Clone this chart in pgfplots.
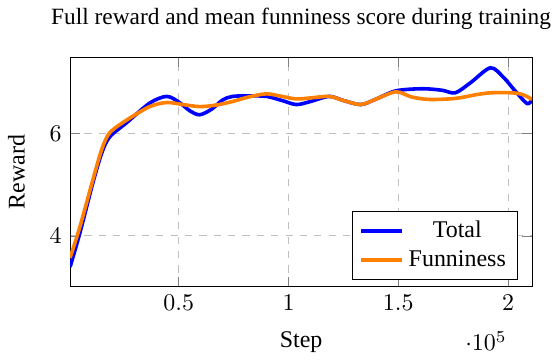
\documentclass[border=0pt]{standalone}
\usepackage{pgfplots}
\pgfplotsset{compat=1.18}
\usepackage{fontspec}
\setmainfont{Liberation Serif}
\begin{document}
\begin{tikzpicture}
\begin{axis}[
  scale only axis,
  width=193pt, height=96pt,
  xmin=500, xmax=211000,
  ymin=3, ymax=7.5,
  xtick={50000,100000,150000,200000},
  ytick={4,6},
  grid=major,
  grid style={dashed, gray!50},
  title={Full reward and mean funniness score during training},
  title style={font=\fontsize{9.75}{12}\selectfont, yshift=2pt},
  xlabel={Step},
  ylabel={Reward},
  ylabel shift=3.5pt,
  xlabel shift=2pt,
  legend style={at={(0.97,0.03)}, anchor=south east},
]
\addplot[blue, line width=1.5pt, smooth] coordinates {
(500,3.39) (5000,4.06) (10900,5.04) (15000,5.63) (18600,5.94) (26400,6.22)
(36800,6.6) (44500,6.73) (50000,6.62) (55000,6.45) (59500,6.37) (65000,6.48)
(70000,6.66) (74500,6.73) (82000,6.74) (90000,6.73) (97000,6.65) (103600,6.57)
(110000,6.63) (118600,6.73) (125000,6.65) (133000,6.57) (140000,6.68)
(149000,6.84) (161000,6.88) (170000,6.85) (176000,6.80) (183000,7.0)
(192000,7.29) (198000,7.1) (203000,6.85) (208700,6.59) (211000,6.67)
};
\addlegendentry{Total}
\addplot[orange, line width=1.5pt, smooth] coordinates {
(500,3.57) (5000,4.18) (10900,5.1) (15000,5.7) (18600,6.02) (26400,6.27)
(36800,6.53) (44500,6.61) (52000,6.57) (59500,6.53) (67000,6.56) (74500,6.63)
(82000,6.72) (90000,6.78) (97000,6.73) (103600,6.68) (110000,6.7) (118600,6.73)
(125000,6.65) (133000,6.57) (140000,6.68) (149000,6.82) (156000,6.72)
(164000,6.67) (176000,6.69) (185000,6.76) (192000,6.80) (202000,6.80)
(207000,6.76) (211000,6.67)
};
\addlegendentry{Funniness}
\end{axis}
\end{tikzpicture}
\end{document}
